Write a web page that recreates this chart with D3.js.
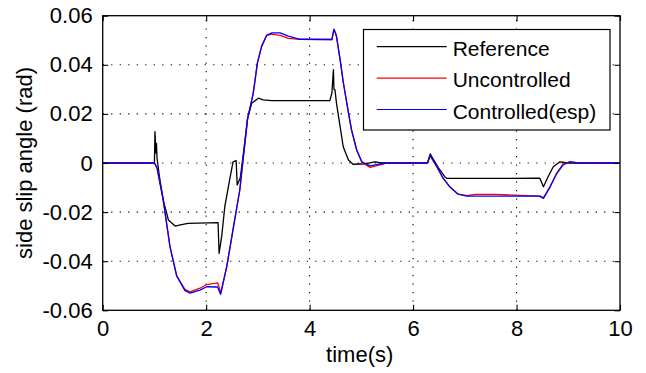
<!DOCTYPE html>
<html>
<head>
<meta charset="utf-8">
<script src="https://cdn.jsdelivr.net/npm/d3@7"></script>
<style>
  body { margin: 0; background: #fff; }
  svg text { font-family: "Liberation Sans", Arial, sans-serif; fill: #000; }
</style>
</head>
<body>
<div id="chart"></div>
<script>
// Reference (black)
const tRef = [0, 1.0, 1.01, 1.03, 1.04, 1.05, 1.10, 1.17, 1.27, 1.40, 1.50, 1.65, 2.23, 2.25, 2.30, 2.36, 2.46, 2.52, 2.58, 2.60, 2.66, 2.72, 2.80, 2.88, 3.01, 3.10, 3.27, 4.39, 4.43, 4.46, 4.47, 4.49, 4.52, 4.59, 4.65, 4.75, 4.84, 5.10, 5.26, 5.40, 6.28, 6.33, 6.49, 6.62, 6.66, 8.45, 8.52, 8.61, 8.71, 8.84, 9.00, 10];
const vRef = [0, 0, 0.0128, 0.004, 0.008, 0.002, -0.006, -0.015, -0.0232, -0.0257, -0.0252, -0.0246, -0.0243, -0.0368, -0.030, -0.0178, -0.0062, 0.0005, 0.001, -0.009, -0.006, 0.004, 0.018, 0.0243, 0.0264, 0.0257, 0.0254, 0.0254, 0.0284, 0.038, 0.030, 0.0298, 0.0243, 0.0148, 0.0066, 0.0012, -0.0005, -0.0003, 0.0005, 0, 0, 0.0037, -0.002, -0.0058, -0.0063, -0.0062, -0.0097, -0.0056, -0.0015, 0.0005, 0, 0];

// Uncontrolled (red)
const tUnc = [0, 1.0, 1.05, 1.17, 1.30, 1.43, 1.59, 1.69, 1.88, 2.01, 2.22, 2.25, 2.28, 2.40, 2.52, 2.65, 2.80, 2.91, 2.99, 3.07, 3.17, 3.27, 3.43, 3.59, 3.70, 3.81, 4.43, 4.47, 4.50, 4.52, 4.59, 4.65, 4.75, 4.81, 4.91, 5.01, 5.17, 5.36, 5.49, 6.28, 6.33, 6.46, 6.58, 6.71, 6.87, 7.04, 7.20, 7.60, 8.45, 8.52, 8.65, 8.78, 8.90, 9.03, 9.20, 10];
const vUnc = [0, 0, -0.002, -0.015, -0.034, -0.046, -0.0515, -0.0525, -0.051, -0.0495, -0.0488, -0.0505, -0.053, -0.042, -0.027, -0.011, 0.018, 0.0284, 0.0407, 0.0474, 0.052, 0.0525, 0.052, 0.0508, 0.0506, 0.0504, 0.0503, 0.0543, 0.053, 0.0515, 0.042, 0.033, 0.0205, 0.0135, 0.0053, 0.0002, -0.0018, -0.0008, 0, 0, 0.003, -0.0015, -0.0062, -0.0097, -0.0127, -0.0133, -0.0128, -0.0128, -0.0135, -0.0142, -0.0095, -0.004, -0.0005, 0.0005, 0, 0];

// Controlled(esp) (blue)
const tEsp = [0, 1.0, 1.05, 1.17, 1.30, 1.43, 1.59, 1.69, 1.88, 2.01, 2.22, 2.25, 2.28, 2.40, 2.52, 2.65, 2.80, 2.91, 2.99, 3.07, 3.17, 3.27, 3.43, 3.59, 3.81, 4.43, 4.47, 4.50, 4.52, 4.59, 4.65, 4.75, 4.81, 4.91, 5.01, 5.17, 5.36, 5.49, 6.28, 6.33, 6.46, 6.58, 6.71, 6.87, 7.04, 8.45, 8.52, 8.65, 8.78, 8.90, 9.03, 9.20, 10];
const vEsp = [0, 0, -0.002, -0.015, -0.034, -0.046, -0.052, -0.053, -0.0518, -0.0504, -0.0505, -0.052, -0.0535, -0.042, -0.027, -0.011, 0.018, 0.0284, 0.0407, 0.0474, 0.052, 0.053, 0.053, 0.0517, 0.0504, 0.0503, 0.0545, 0.053, 0.0515, 0.042, 0.033, 0.0205, 0.0135, 0.0053, 0.0005, -0.0012, -0.0004, 0, 0, 0.003, -0.0015, -0.0062, -0.0097, -0.0127, -0.0135, -0.0135, -0.0144, -0.0097, -0.0042, -0.0008, 0.0005, 0, 0];

const xTicks = [0, 2, 4, 6, 8, 10];
const yTicks = [-0.06, -0.04, -0.02, 0, 0.02, 0.04, 0.06];
const seriesNames = ['Reference', 'Uncontrolled', 'Controlled(esp)'];
const seriesColors = ['#000000', '#ff0000', '#0000ff'];

const width = 646, height = 373;
const plotLeft = 102.7, plotRight = 620, plotTop = 15.7, plotBottom = 310.3;

const svg = d3.select('#chart')
  .append('svg')
    .attr('width', width)
    .attr('height', height);

const x = d3.scaleLinear().domain([0, 10]).range([plotLeft, plotRight]);
const y = d3.scaleLinear().domain([-0.06, 0.06]).range([plotBottom, plotTop]);

// Grid (dotted)
const grid = svg.append('g')
  .attr('stroke', '#000')
  .attr('stroke-width', 1.1)
  .attr('stroke-dasharray', '1.2,7.3');
grid.selectAll('.gx')
  .data(xTicks.slice(1, -1))
  .enter().append('line')
    .attr('x1', d => x(d)).attr('x2', d => x(d))
    .attr('y1', plotBottom).attr('y2', plotTop);
grid.selectAll('.gy')
  .data(yTicks.slice(1, -1))
  .enter().append('line')
    .attr('y1', d => y(d)).attr('y2', d => y(d))
    .attr('x1', plotLeft).attr('x2', plotRight);

// Lines
const series = [[tRef, vRef], [tUnc, vUnc], [tEsp, vEsp]];
const line = d3.line().x(d => x(d[0])).y(d => y(d[1]));
series.forEach((s, i) => {
  svg.append('path')
    .datum(d3.zip(s[0], s[1]))
    .attr('fill', 'none')
    .attr('stroke', seriesColors[i])
    .attr('stroke-width', 1.3)
    .attr('stroke-linejoin', 'round')
    .attr('d', line);
});

// Axes (ticks inward, on all four sides)
const fmtY = d => d === 0 ? '0' : d3.format('.2f')(d).replace('−', '-');
const styleAxis = g => {
  g.select('.domain').remove();
  g.selectAll('line').attr('stroke', '#000').attr('stroke-width', 1.1);
  g.selectAll('text').attr('font-size', 22).attr('font-family', '"Liberation Sans", Arial, sans-serif');
};
svg.append('g')
  .attr('transform', 'translate(0,' + plotBottom + ')')
  .call(d3.axisBottom(x).tickValues(xTicks).tickSizeInner(-5.5).tickSizeOuter(0).tickPadding(10).tickFormat(d3.format('d')))
  .call(styleAxis);
svg.append('g')
  .attr('transform', 'translate(0,' + plotTop + ')')
  .call(d3.axisTop(x).tickValues(xTicks).tickSizeInner(-5.5).tickSizeOuter(0).tickFormat(''))
  .call(styleAxis);
svg.append('g')
  .attr('transform', 'translate(' + plotLeft + ',0)')
  .call(d3.axisLeft(y).tickValues(yTicks).tickSizeInner(-5.5).tickSizeOuter(0).tickPadding(10).tickFormat(fmtY))
  .call(styleAxis);
svg.append('g')
  .attr('transform', 'translate(' + plotRight + ',0)')
  .call(d3.axisRight(y).tickValues(yTicks).tickSizeInner(-5.5).tickSizeOuter(0).tickFormat(''))
  .call(styleAxis);

// Box
svg.append('rect')
  .attr('x', plotLeft).attr('y', plotTop)
  .attr('width', plotRight - plotLeft).attr('height', plotBottom - plotTop)
  .attr('fill', 'none')
  .attr('stroke', '#000')
  .attr('stroke-width', 1.3);

// Axis labels
svg.append('text')
  .attr('x', 359.7).attr('y', 362)
  .attr('text-anchor', 'middle')
  .attr('font-size', 22)
  .text('time(s)');
svg.append('text')
  .attr('transform', 'translate(32,163) rotate(-90)')
  .attr('text-anchor', 'middle')
  .attr('font-size', 22)
  .text('side slip angle (rad)');

// Legend
const legend = svg.append('g');
legend.append('rect')
  .attr('x', 363.5).attr('y', 29.5)
  .attr('width', 246.5).attr('height', 100.5)
  .attr('fill', '#fff')
  .attr('stroke', '#000')
  .attr('stroke-width', 1.2);
seriesNames.forEach((name, i) => {
  const ly = 46.7 + i * 31.4;
  legend.append('line')
    .attr('x1', 376.7).attr('x2', 446.7)
    .attr('y1', ly).attr('y2', ly)
    .attr('stroke', seriesColors[i])
    .attr('stroke-width', 1.2);
  legend.append('text')
    .attr('x', 452.7).attr('y', ly + 9.3)
    .attr('font-size', 21)
    .text(name);
});
</script>
</body>
</html>
